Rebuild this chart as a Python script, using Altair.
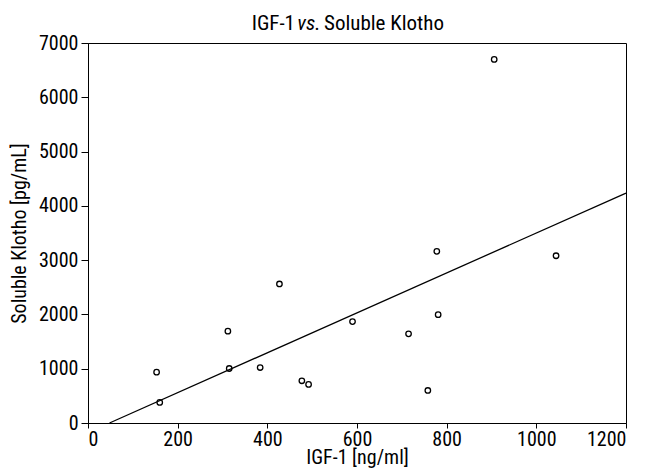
import altair as alt
import pandas as pd

# Data
igf1 = [153, 160, 312, 315, 384, 427, 477, 492, 590, 715, 758, 778, 781, 906, 1044]
klotho = [937, 379, 1691, 1004, 1022, 2561, 778, 710, 1868, 1642, 599, 3162, 1996, 6697, 3081]

# Regression line endpoints
fit_x = [48, 1200]
fit_y = [0, 4235]

x_ticks = [0, 200, 400, 600, 800, 1000, 1200]
y_ticks = [0, 1000, 2000, 3000, 4000, 5000, 6000, 7000]

title_parts = ["IGF-1", "vs.", "Soluble Klotho"]

FONT = "Roboto Condensed"

pts = pd.DataFrame({"x": igf1, "y": klotho})
fit = pd.DataFrame({"x": fit_x, "y": fit_y})

xs = alt.Scale(domain=[0, 1200], nice=False)
ys = alt.Scale(domain=[0, 7000], nice=False)

points = alt.Chart(pts).mark_point(
    shape="circle", filled=False, color="black", size=30, strokeWidth=1.3, opacity=1
).encode(
    x=alt.X("x:Q", scale=xs, title="IGF-1 [ng/ml]",
            axis=alt.Axis(values=x_ticks, format="d", tickSize=5, labelPadding=1, titlePadding=-2)),
    y=alt.Y("y:Q", scale=ys, title="Soluble Klotho [pg/mL]",
            axis=alt.Axis(values=y_ticks, format="d", tickSize=7, labelPadding=3, titlePadding=9)),
)

line = alt.Chart(fit).mark_line(color="black", strokeWidth=1.3).encode(
    x=alt.X("x:Q", scale=xs), y=alt.Y("y:Q", scale=ys)
)

TY = -13
TS = 21
t1 = alt.Chart(pd.DataFrame({"t": [title_parts[0]]})).mark_text(
    font=FONT, fontSize=TS, align="right", baseline="alphabetic", color="black"
).encode(text="t:N", x=alt.value(207), y=alt.value(TY))
t2 = alt.Chart(pd.DataFrame({"t": [title_parts[1]]})).mark_text(
    font=FONT, fontSize=TS, fontStyle="italic", align="center", baseline="alphabetic", color="black"
).encode(text="t:N", x=alt.value(221), y=alt.value(TY))
t3 = alt.Chart(pd.DataFrame({"t": [title_parts[2]]})).mark_text(
    font=FONT, fontSize=TS, align="left", baseline="alphabetic", color="black"
).encode(text="t:N", x=alt.value(236), y=alt.value(TY))

chart = alt.layer(line, points, t1, t2, t3).properties(
    width=538, height=380,
    autosize=alt.AutoSizeParams(type="none"),
    padding={"left": 80, "top": 35, "right": 14, "bottom": 45},
).configure_view(
    stroke="black", strokeWidth=1
).configure_axis(
    grid=False, domainColor="black", tickColor="black",
    labelFont=FONT, titleFont=FONT, labelFontSize=20, titleFontSize=20,
    labelColor="black", titleColor="black", titleFontWeight="normal",
)

chart.save("out.html", embed_options={"renderer": "svg", "actions": False})
